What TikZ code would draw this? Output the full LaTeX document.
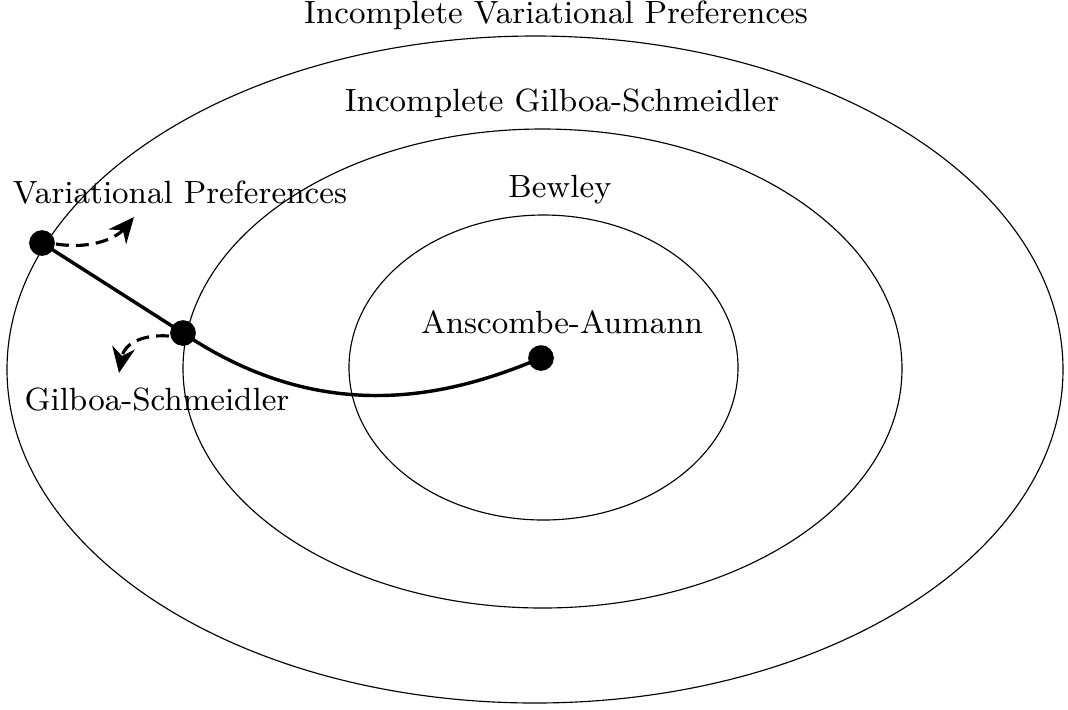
\documentclass[tikz,border=0pt]{standalone}
\usepackage{amsmath,amssymb}
\usetikzlibrary{arrows.meta}

\begin{document}
\begin{tikzpicture}[x=0.35pt,y=-0.35pt,
    label/.style={font=\fontsize{9}{11}\selectfont,scale=1.25},
    move/.style={-{Stealth[length=9pt,width=8pt]},line width=1.1pt,dash pattern=on 4.5pt off 2.5pt}]
            \useasboundingbox (0,0) rectangle (1068,709);
            \draw (535,369.5) ellipse [x radius=528,y radius=333.5];
            \draw (542.5,368.5) ellipse [x radius=359.5,y radius=239.5];
            \draw (543.5,367.5) ellipse [x radius=194.5,y radius=152.5];
            \node [label] (ivp) at (556,15) {Incomplete Variational Preferences};
            \node [label] (igs) at (562,103) {Incomplete Gilboa-Schmeidler};
            \node [label] (bew) at (560,190) {Bewley};
            \node [label] (aalab) at (562,322) {Anscombe-Aumann};
            \node [label] (vplab) at (180,193) {Variational Preferences};
            \node [label] (gslab) at (157,400) {Gilboa-Schmeidler};
            \coordinate (vp) at (42,243);
            \coordinate (gs) at (183,333);
            \coordinate (aa) at (541,358);
            \draw [line width=1.2pt] (vp) -- (gs) .. controls (330,432) and (460,392) .. (aa);
            \fill (vp) circle [radius=4.5pt];
            \fill (gs) circle [radius=4.5pt];
            \fill (aa) circle [radius=4.5pt];
            \draw [move] (vp) ++(14,1) .. controls (95,250) and (118,236) .. (134,217);
            \draw [move] (gs) ++(-14,3) .. controls (140,334) and (124,345) .. (119,373);
        \end{tikzpicture}
\end{document}
